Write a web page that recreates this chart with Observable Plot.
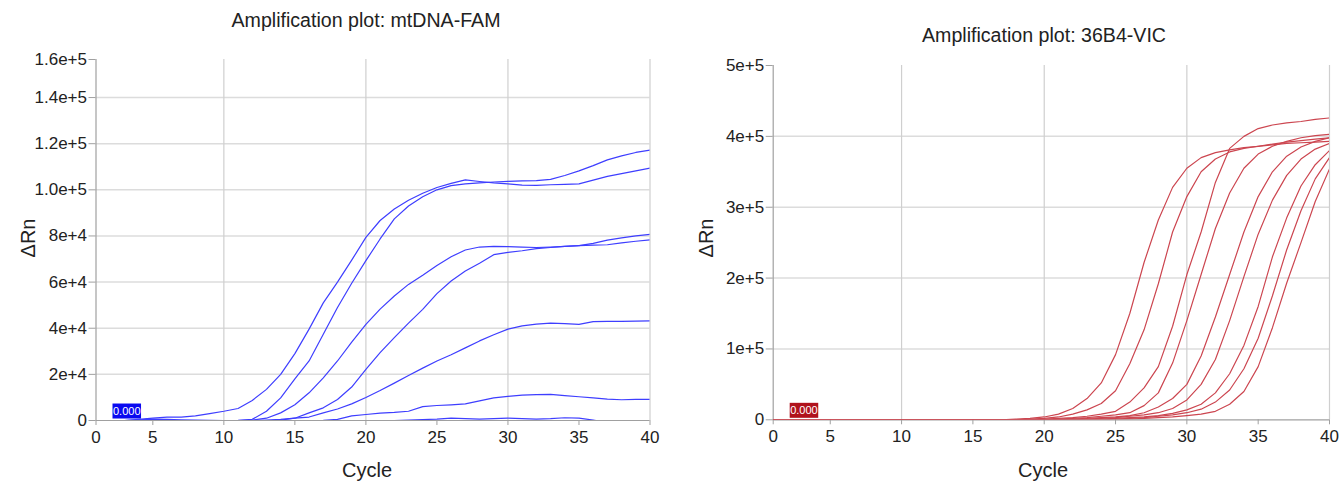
<!DOCTYPE html>
<html><head><meta charset="utf-8">
<script src="https://cdn.jsdelivr.net/npm/d3@7"></script>
<script src="https://cdn.jsdelivr.net/npm/@observablehq/plot@0.6"></script>
<style>
body{margin:0;background:#fff;font-family:"Liberation Sans",Arial,sans-serif;}
#wrap{position:relative;width:1343px;height:482px;overflow:hidden;background:#fff;}
.title{position:absolute;font-size:19.6px;color:#222;white-space:nowrap;transform:translate(-50%,-50%);}
.xlab{position:absolute;font-size:20px;color:#222;white-space:nowrap;transform:translate(-50%,-50%);}
.ylab{position:absolute;font-size:20px;color:#222;white-space:nowrap;transform:translate(-50%,-50%) rotate(-90deg);}
.chart{position:absolute;top:0;}
</style></head><body><div id="wrap"></div>
<script>
// ---------- data ----------
const cycles = [1,2,3,4,5,6,7,8,9,10,11,12,13,14,15,16,17,18,19,20,21,22,23,24,25,26,27,28,29,30,31,32,33,34,35,36,37,38,39,40];
const xTickValues = [1,5,10,15,20,25,30,35,40];
const xTickLabels = ["0","5","10","15","20","25","30","35","40"];
const xGridValues = [10,20,30,40];

// mtDNA-FAM, ΔRn in units of 1e4
const famUnit = 1e4;
const famA = [0,0,0,0.05,0.1,0.15,0.15,0.2,0.3,0.4,0.52,0.87,1.35,2.0,2.9,3.96,5.1,6.0,6.95,7.94,8.67,9.17,9.55,9.85,10.1,10.28,10.43,10.36,10.3,10.26,10.2,10.19,10.22,10.24,10.26,10.42,10.58,10.7,10.82,10.94];
const famB = [0,0,0,0,0,0,0,0,0,0,0.01,0.05,0.4,0.98,1.8,2.58,3.74,4.9,5.95,6.93,7.87,8.74,9.3,9.7,10.0,10.18,10.26,10.3,10.34,10.37,10.39,10.4,10.45,10.62,10.82,11.05,11.3,11.47,11.62,11.72];
const famC = [0,0,0,0,0,0,0,0,0,0,0,0.02,0.1,0.33,0.68,1.2,1.85,2.58,3.4,4.17,4.83,5.4,5.9,6.3,6.72,7.1,7.39,7.52,7.55,7.54,7.52,7.5,7.52,7.55,7.58,7.68,7.82,7.92,8.0,8.07];
const famD = [0,0,0,0,0,0,0,0,0,0,0,0,0,0.02,0.1,0.33,0.55,0.91,1.45,2.22,2.94,3.59,4.22,4.82,5.5,6.05,6.48,6.82,7.19,7.29,7.36,7.45,7.5,7.55,7.58,7.6,7.62,7.7,7.77,7.83];
const famE = [0,0,0,0,0,0,0,0,0,0,0,0,0.02,0.05,0.1,0.15,0.33,0.5,0.72,1.0,1.3,1.62,1.95,2.27,2.58,2.85,3.15,3.45,3.72,3.96,4.1,4.18,4.22,4.2,4.17,4.29,4.3,4.3,4.31,4.32];
const famF = [0,0,0,0,0,0,0,0,0,0,0,0,0,0,0,0,0.01,0.05,0.2,0.26,0.32,0.35,0.4,0.6,0.65,0.68,0.72,0.85,0.98,1.05,1.1,1.12,1.13,1.08,1.03,0.98,0.93,0.9,0.92,0.92];
const famG = [0,0,0,0.03,0.06,0.05,0.03,0.02,0.01,0,0,0,0,0,0,0,0,0,0,0,0,0,0.02,0.04,0.06,0.1,0.08,0.06,0.08,0.1,0.08,0.06,0.08,0.12,0.1,0.02,-0.1,-0.2,-0.2,-0.2];
const famYTicks = [0,20000,40000,60000,80000,100000,120000,140000,156500];
const famYLabels = ["0","2e+4","4e+4","6e+4","8e+4","1.0e+5","1.2e+5","1.4e+5","1.6e+5"];

// 36B4-VIC, ΔRn in units of 1e5
const vicUnit = 1e5;
const vic1 = [0,0,0,0,0,0,0,0,0,0,0,0,0,0,0,0,0,0.01,0.02,0.04,0.08,0.16,0.3,0.52,0.92,1.5,2.22,2.82,3.28,3.55,3.7,3.77,3.81,3.84,3.86,3.88,3.9,3.91,3.92,3.93];
const vic2 = [0,0,0,0,0,0,0,0,0,0,0,0,0,0,0,0,0,0,0.01,0.02,0.04,0.08,0.14,0.23,0.41,0.79,1.27,1.92,2.65,3.15,3.5,3.68,3.78,3.83,3.86,3.89,3.92,3.94,3.96,3.98];
const vic3 = [0,0,0,0,0,0,0,0,0,0,0,0,0,0,0,0,0,0,0,0.01,0.02,0.03,0.05,0.08,0.12,0.25,0.45,0.75,1.32,2.05,2.65,3.35,3.83,4.0,4.11,4.16,4.19,4.21,4.24,4.26];
const vic4 = [0,0,0,0,0,0,0,0,0,0,0,0,0,0,0,0,0,0,0,0,0.01,0.02,0.03,0.05,0.07,0.1,0.2,0.38,0.8,1.4,2.05,2.7,3.2,3.55,3.75,3.86,3.93,3.98,4.01,4.03];
const vic5 = [0,0,0,0,0,0,0,0,0,0,0,0,0,0,0,0,0,0,0,0,0,0.01,0.02,0.03,0.04,0.06,0.1,0.18,0.3,0.5,0.9,1.45,2.05,2.65,3.15,3.5,3.72,3.85,3.93,3.98];
const vic6 = [0,0,0,0,0,0,0,0,0,0,0,0,0,0,0,0,0,0,0,0,0,0,0.01,0.02,0.03,0.05,0.07,0.1,0.16,0.28,0.5,0.85,1.4,2.02,2.62,3.1,3.45,3.68,3.82,3.9];
const vic7 = [0,0,0,0,0,0,0,0,0,0,0,0,0,0,0,0,0,0,0,0,0,0,0,0.01,0.02,0.03,0.04,0.06,0.09,0.14,0.22,0.38,0.65,1.05,1.6,2.3,2.85,3.3,3.6,3.8];
const vic8 = [0,0,0,0,0,0,0,0,0,0,0,0,0,0,0,0,0,0,0,0,0,0,0,0,0.01,0.02,0.03,0.05,0.07,0.1,0.15,0.25,0.42,0.72,1.15,1.75,2.4,2.95,3.4,3.7];
const vic9 = [0,0,0,0,0,0,0,0,0,0,0,0,0,0,0,0,0,0,0,0,0,0,0,0,0,0.01,0.02,0.03,0.04,0.06,0.08,0.12,0.22,0.4,0.75,1.3,1.93,2.5,3.08,3.54];
const vicYTicks = [0,100000,200000,300000,400000,500000];
const vicYLabels = ["0","1e+5","2e+5","3e+5","4e+5","5e+5"];

const thresholdLabel = "0.000";

// ---------- chart builder ----------
function buildRows(seriesList, names, unit) {
  const rows = [];
  seriesList.forEach((s, k) => s.forEach((v, i) => rows.push({cycle: cycles[i], value: v * unit, well: names[k]})));
  return rows;
}

function makeChart(o) {
  const yMap = new Map(o.yTicks.map((t, i) => [t, o.yLabels[i]]));
  const xMap = new Map(xTickValues.map((t, i) => [t, xTickLabels[i]]));
  const gridYs = o.yTicks.slice(1, -1);
  const svg = Plot.plot({
    width: o.width, height: 482,
    marginLeft: o.ml, marginRight: o.mr, marginTop: o.mt, marginBottom: o.mb,
    style: {fontFamily: '"Liberation Sans", Arial, sans-serif', background: "white", overflow: "visible"},
    x: {type: "linear", domain: [1, 40]},
    y: {type: "linear", domain: o.yDomain},
    marks: [
      Plot.ruleY(gridYs, {stroke: "#dcdcdc", strokeWidth: 1.5}),
      Plot.ruleX(xGridValues, {stroke: "#cfcfcf", strokeWidth: 1.2}),
      Plot.ruleY([o.yDomain[0]], {stroke: "#a0a0a0", strokeWidth: 1.2}),
      Plot.ruleX([1], {stroke: "#a0a0a0", strokeWidth: 1.2}),
      Plot.axisY({ticks: o.yTicks, tickFormat: d => yMap.get(d), tickSize: 7, tickPadding: 2, fontSize: 17, stroke: "#a0a0a0", fill: "#222", label: null}),
      Plot.axisX({ticks: xTickValues, tickFormat: d => xMap.get(d), tickSize: 5, tickPadding: 5, fontSize: 17, stroke: "#a0a0a0", fill: "#222", label: null}),
      Plot.line(o.rows, {x: "cycle", y: "value", z: "well", stroke: o.color, strokeWidth: 1.2, clip: true}),
      Plot.text([thresholdLabel], {frameAnchor: "bottom-left", text: d => d, dx: 17, dy: -9, fill: "white", fontSize: 11, textAnchor: "start", lineAnchor: "middle"})
    ]
  });
  svg.classList.add("chart");
  svg.style.left = o.left + "px";
  svg.dataset.box = o.boxColor;
  return svg;
}

const wrap = document.getElementById("wrap");

const famSvg = makeChart({
  rows: buildRows([famA, famB, famC, famD, famE, famF, famG], ["A","B","C","D","E","F","G"], famUnit),
  width: 671, left: 0, ml: 95.5, mr: 21.5, mt: 59, mb: 62,
  yDomain: [0, 156500], yTicks: famYTicks, yLabels: famYLabels,
  color: "rgb(62,62,255)", boxColor: "#0a0af0"
});
const vicSvg = makeChart({
  rows: buildRows([vic1, vic2, vic3, vic4, vic5, vic6, vic7, vic8, vic9], ["1","2","3","4","5","6","7","8","9"], vicUnit),
  width: 672, left: 671, ml: 101.7, mr: 14, mt: 65, mb: 62.7,
  yDomain: [0, 500000], yTicks: vicYTicks, yLabels: vicYLabels,
  color: "rgb(204,70,80)", boxColor: "#b0121c"
});
wrap.appendChild(famSvg);
wrap.appendChild(vicSvg);

// background boxes behind threshold labels
for (const svg of [famSvg, vicSvg]) {
  for (const t of svg.querySelectorAll("text")) {
    if (t.textContent === thresholdLabel) {
      const b = t.getBBox();
      const r = document.createElementNS("http://www.w3.org/2000/svg", "rect");
      r.setAttribute("x", b.x - 0.5);
      r.setAttribute("y", b.y + b.height / 2 - 7.5);
      r.setAttribute("width", b.width + 1);
      r.setAttribute("height", 15);
      r.setAttribute("fill", svg.dataset.box);
      const tr = t.getAttribute("transform");
      if (tr) r.setAttribute("transform", tr);
      t.parentNode.insertBefore(r, t);
    }
  }
}

// text labels
function addLabel(cls, text, x, y) {
  const d = document.createElement("div");
  d.className = cls; d.textContent = text;
  d.style.left = x + "px"; d.style.top = y + "px";
  wrap.appendChild(d);
}
addLabel("title", "Amplification plot: mtDNA-FAM", 366, 20);
addLabel("title", "Amplification plot: 36B4-VIC", 1044, 35);
addLabel("ylab", "ΔRn", 28, 238);
addLabel("ylab", "ΔRn", 706, 238);
addLabel("xlab", "Cycle", 367, 470);
addLabel("xlab", "Cycle", 1043, 470);
</script></body></html>
